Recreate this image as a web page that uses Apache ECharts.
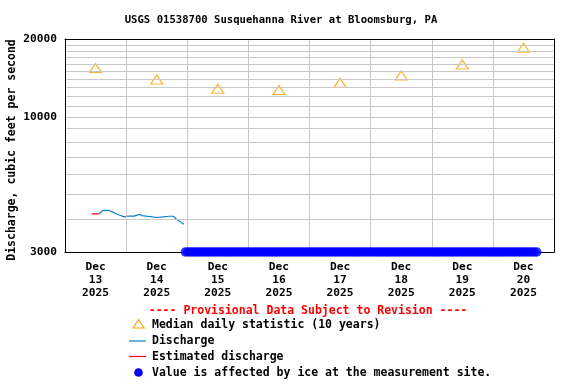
<!DOCTYPE html>
<html><head><meta charset="utf-8">
<script src="https://cdn.jsdelivr.net/npm/echarts@6/dist/echarts.min.js"></script>
<style>html,body{margin:0;padding:0;background:#fff}#c{width:576px;height:384px}</style>
</head><body><div id="c"></div>
<script>
// ---- data ----
const dayLabels = ['Dec\n13\n2025','Dec\n14\n2025','Dec\n15\n2025','Dec\n16\n2025','Dec\n17\n2025','Dec\n18\n2025','Dec\n19\n2025','Dec\n20\n2025'];
const medianValues = [15450, 13950, 12850, 12700, 13550, 14450, 15950, 18500];
const estimatedTimes = ['2025-12-13 10:30','2025-12-13 13:15'];
const estimatedValues = [4210, 4210];
const dischargeTimes = ['2025-12-13 13:15','2025-12-13 14:00','2025-12-13 15:00','2025-12-13 17:00','2025-12-13 17:45','2025-12-13 19:00','2025-12-13 20:00','2025-12-13 21:15','2025-12-13 22:00','2025-12-13 23:15','2025-12-14 00:36','2025-12-14 03:06','2025-12-14 03:24','2025-12-14 05:24','2025-12-14 06:12','2025-12-14 08:18','2025-12-14 10:18','2025-12-14 12:00','2025-12-14 14:36','2025-12-14 16:48','2025-12-14 18:30','2025-12-14 19:18','2025-12-14 19:54','2025-12-14 21:12','2025-12-14 22:42'];
const dischargeValues = [4210, 4270, 4350, 4350, 4300, 4270, 4220, 4170, 4135, 4100, 4130, 4130, 4170, 4195, 4150, 4125, 4100, 4080, 4100, 4125, 4125, 4050, 3990, 3930, 3840];
// ice-affected flag: plotted at the axis floor, hourly from start to end
const iceStart = '2025-12-14T23:15:00';
const iceEnd = '2025-12-20T17:15:00';
const iceValue = 3000;
const yTickLabels = [3000, 10000, 20000];
const yGridValues = [4000,5000,6000,7000,8000,9000,10000,11000,12000,13000,14000,15000,16000,17000,18000,19000];

// ---- build ----
const xMin = new Date('2025-12-13T00:00:00').getTime();
const xMax = new Date('2025-12-21T00:00:00').getTime();
const iceData = [];
for (let t = new Date(iceStart).getTime(); t <= new Date(iceEnd).getTime(); t += 3600000) iceData.push([t, iceValue]);
const FONT = '"DejaVu Sans Mono", "Liberation Mono", monospace';
const fs = 11.5;
const black = {show: true, lineStyle: {color: '#000', width: 1}};

const chart = echarts.init(document.getElementById('c'));
const gridMarks = yGridValues.map(v => ({yAxis: v}));
yTickLabels.forEach(v => gridMarks.push({yAxis: v, label: {show: true, formatter: String(v)}}));

chart.setOption({
  animation: false,
  backgroundColor: '#fff',
  grid: {left: 65, right: 22, top: 39, bottom: 132, show: false},
  xAxis: [
    {type: 'time', min: xMin, max: xMax, position: 'top', axisLabel: {show: false}, axisTick: {show: false}, axisLine: black, splitLine: {show: false}, z: 6},
    {type: 'category', data: dayLabels, boundaryGap: true, position: 'bottom',
     axisLine: black, axisTick: {show: false}, z: 6,
     axisLabel: {interval: 0, margin: 9, fontFamily: FONT, fontSize: 11.2, fontWeight: 'bold', color: '#000', lineHeight: 13},
     splitLine: {show: true, interval: 0, lineStyle: {color: '#c8c8c8', width: 1}}}
  ],
  yAxis: [
    {type: 'log', logBase: 10, min: 3000, max: 20000, position: 'left', axisLabel: {show: false}, axisTick: {show: false}, axisLine: black, splitLine: {show: false}, z: 6},
    {type: 'log', logBase: 10, min: 3000, max: 20000, position: 'right', axisLabel: {show: false}, axisTick: {show: false}, axisLine: black, splitLine: {show: false}, z: 6}
  ],
  series: [
    {name: 'grid', type: 'line', xAxisIndex: 0, data: [], silent: true, z: 1,
     markLine: {silent: true, symbol: 'none', animation: false,
       lineStyle: {color: '#c8c8c8', width: 1, type: 'solid'},
       label: {show: false, position: 'start', distance: 8, fontFamily: FONT, fontSize: 11.2, fontWeight: 'bold', color: '#000'},
       emphasis: {disabled: true},
       data: gridMarks}},
    {name: 'Median daily statistic (10 years)', type: 'scatter', xAxisIndex: 1, data: medianValues,
     symbol: 'triangle', symbolSize: [12, 9], z: 3,
     itemStyle: {color: 'rgba(255,255,255,0)', borderColor: '#ffa500', borderWidth: 1.2}},
    {name: 'Estimated discharge', type: 'line', xAxisIndex: 0, showSymbol: false, z: 3,
     data: estimatedTimes.map((t, i) => [t, estimatedValues[i]]), lineStyle: {color: '#ff0000', width: 1.2}},
    {name: 'Discharge', type: 'line', xAxisIndex: 0, showSymbol: false, z: 3,
     data: dischargeTimes.map((t, i) => [t, dischargeValues[i]]), lineStyle: {color: '#0a7fd0', width: 1.2}},
    {name: 'Value is affected by ice at the measurement site.', type: 'scatter', xAxisIndex: 0, data: iceData,
     symbol: 'circle', symbolSize: 9.5, clip: false, z: 10, itemStyle: {color: '#0000ff'}}
  ],
  graphic: [
    {type: 'text', x: 281, y: 20, style: {text: 'USGS 01538700 Susquehanna River at Bloomsburg, PA', font: `bold 10.6px ${FONT}`, fill: '#000', align: 'center', verticalAlign: 'middle'}},
    {type: 'text', x: 12, y: 150, rotation: Math.PI / 2, style: {text: 'Discharge, cubic feet per second', font: `bold ${fs}px ${FONT}`, fill: '#000', align: 'center', verticalAlign: 'middle'}},
    {type: 'text', x: 308, y: 311, style: {text: '---- Provisional Data Subject to Revision ----', font: `bold ${fs}px ${FONT}`, fill: '#ff0000', align: 'center', verticalAlign: 'middle'}},
    {type: 'polygon', shape: {points: [[133, 328], [138.5, 319.5], [144, 328]]}, style: {fill: 'none', stroke: '#ffa500', lineWidth: 1.2}},
    {type: 'text', x: 152, y: 325, style: {text: 'Median daily statistic (10 years)', font: `bold ${fs}px ${FONT}`, fill: '#000', verticalAlign: 'middle'}},
    {type: 'line', shape: {x1: 129, y1: 341, x2: 146, y2: 341}, style: {stroke: '#0a7fd0', lineWidth: 1.2}},
    {type: 'text', x: 152, y: 341, style: {text: 'Discharge', font: `bold ${fs}px ${FONT}`, fill: '#000', verticalAlign: 'middle'}},
    {type: 'line', shape: {x1: 129, y1: 356.5, x2: 146, y2: 356.5}, style: {stroke: '#ff0000', lineWidth: 1.2}},
    {type: 'text', x: 152, y: 357, style: {text: 'Estimated discharge', font: `bold ${fs}px ${FONT}`, fill: '#000', verticalAlign: 'middle'}},
    {type: 'circle', shape: {cx: 138.5, cy: 372.5, r: 4.3}, style: {fill: '#0000ff'}},
    {type: 'text', x: 152, y: 373, style: {text: 'Value is affected by ice at the measurement site.', font: `bold ${fs}px ${FONT}`, fill: '#000', verticalAlign: 'middle'}}
  ]
});
</script></body></html>
